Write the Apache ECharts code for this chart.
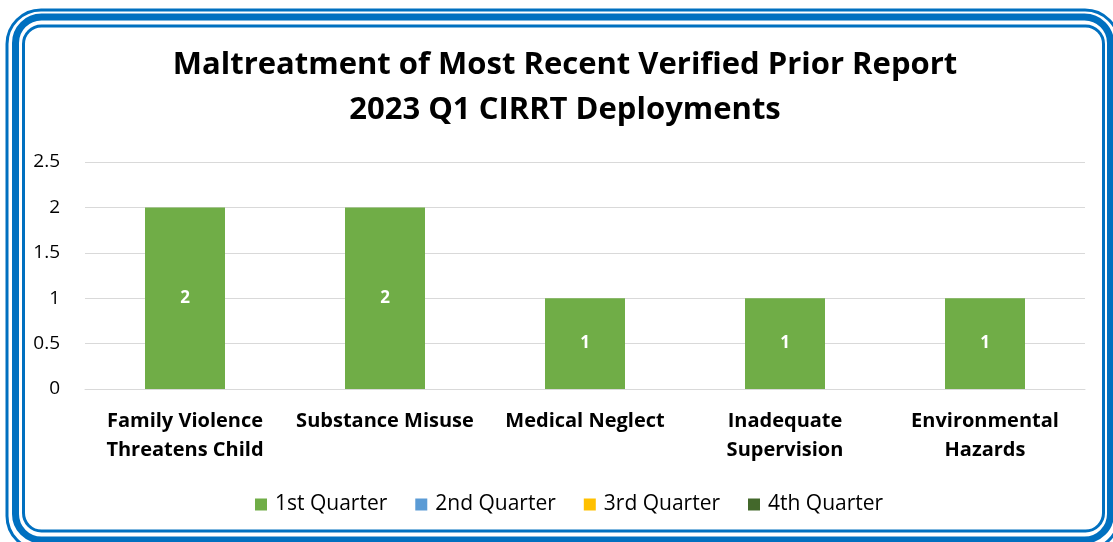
<!DOCTYPE html>
<html>
<head>
<meta charset="utf-8">
<script src="https://cdn.jsdelivr.net/npm/echarts@6/dist/echarts.min.js"></script>
<style>
html, body { margin: 0; padding: 0; background: #fff; }
#myChart { width: 1113px; height: 542px; }
</style>
</head>
<body>
<div id="myChart"></div>
<script>
// chart data
var categories = ['Family Violence\nThreatens Child', 'Substance Misuse', 'Medical Neglect', 'Inadequate\nSupervision', 'Environmental\nHazards'];
var quarterNames = ['1st Quarter', '2nd Quarter', '3rd Quarter', '4th Quarter'];
var q1Values = [2, 2, 1, 1, 1];
var q2Values = [null, null, null, null, null];
var q3Values = [null, null, null, null, null];
var q4Values = [null, null, null, null, null];
var yTicks = [0, 0.5, 1, 1.5, 2, 2.5];
var colors = ['#70AD47', '#5B9BD5', '#FFC000', '#43682B'];

var fontName = 'Open Sans';
var myChart = echarts.init(document.getElementById('myChart'));

function quarterSeries(i, values) {
	return {
		name: quarterNames[i],
		type: 'bar',
		stack: 'q',
		barWidth: 80,
		data: values,
		itemStyle: { color: colors[i] },
		label: {
			show: i === 0,
			position: 'inside',
			color: '#fff',
			fontWeight: 'bold',
			fontSize: 17,
			fontFamily: fontName
		}
	};
}

var option = {
	backgroundColor: '#fff',
	animation: false,
	title: {
		text: 'Maltreatment of Most Recent Verified Prior Report\n2023 Q1 CIRRT Deployments',
		left: 560,
		textAlign: 'center',
		top: 38,
		textStyle: {
			fontFamily: fontName,
			fontWeight: 'bold',
			fontSize: 31,
			lineHeight: 45,
			color: '#000'
		}
	},
	legend: {
		left: 250,
		top: 489,
		itemWidth: 12,
		itemHeight: 12,
		itemGap: 28,
		icon: 'rect',
		data: quarterNames,
		textStyle: {
			fontFamily: fontName,
			fontSize: 21,
			color: '#000',
			padding: [0, 0, 0, 3]
		}
	},
	grid: {
		left: 85,
		right: 28,
		top: 162,
		bottom: 153,
		containLabel: false
	},
	xAxis: {
		type: 'category',
		data: categories,
		axisTick: { show: false },
		axisLine: { lineStyle: { color: '#D9D9D9', width: 1 } },
		axisLabel: {
			interval: 0,
			margin: 18,
			fontFamily: fontName,
			fontWeight: 'bold',
			fontSize: 20,
			lineHeight: 29,
			color: '#000'
		}
	},
	yAxis: {
		type: 'value',
		min: yTicks[0],
		max: yTicks[yTicks.length - 1],
		interval: 0.5,
		axisLine: { show: false },
		axisTick: { show: false },
		splitLine: { lineStyle: { color: '#D9D9D9', width: 1 } },
		axisLabel: {
			margin: 25,
			fontFamily: fontName,
			fontSize: 19,
			color: '#000'
		}
	},
	graphic: [
		{ type: 'rect', silent: true, shape: { x: 7, y: 10, width: 1112, height: 540, r: 34 },
		  style: { fill: null, stroke: '#0070C0', lineWidth: 3 } },
		{ type: 'rect', silent: true, shape: { x: 15.5, y: 17, width: 1095, height: 523, r: 26 },
		  style: { fill: null, stroke: '#0070C0', lineWidth: 7 } },
		{ type: 'rect', silent: true, shape: { x: 23.5, y: 26, width: 1080, height: 505, r: 18 },
		  style: { fill: null, stroke: '#0070C0', lineWidth: 3 } }
	],
	series: [
		quarterSeries(0, q1Values),
		quarterSeries(1, q2Values),
		quarterSeries(2, q3Values),
		quarterSeries(3, q4Values)
	]
};

myChart.setOption(option);
</script>
</body>
</html>
